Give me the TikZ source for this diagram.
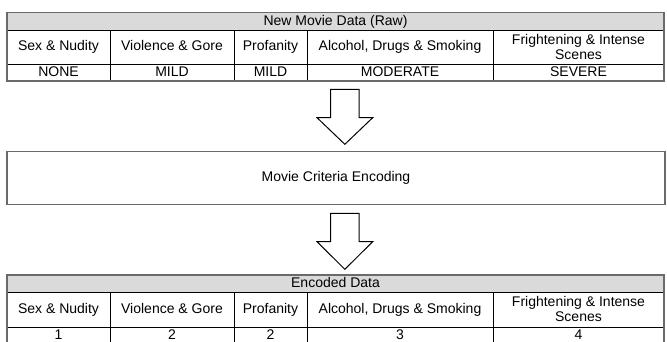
\documentclass[tikz,border=0pt]{standalone}
\usepackage{fontspec}
\setmainfont{Liberation Sans}
\definecolor{bordergray}{HTML}{6A6A6A}
\definecolor{headgray}{HTML}{DADADA}
\tikzset{
  outerframe/.style={draw=bordergray, line width=1.5pt},
  innerline/.style={draw=black, line width=0.8pt},
  celltwo/.style={font=\fontsize{14}{15}\selectfont, inner sep=0pt, align=center},
  celltxt/.style={font=\fontsize{14}{15}\selectfont, inner sep=0pt, text height=10.2pt, text depth=3pt},
  blockarrow/.style={draw=black, line width=1pt, fill=white, line join=miter}
}
\begin{document}
\begin{tikzpicture}[x=1pt,y=-1pt]
\clip (0,0) rectangle (667,341);
\fill[white] (0,0) rectangle (667,341);

% ---------- Raw table ----------
\begin{scope}
  \fill[headgray] (7,12.5) rectangle (664,30);
  \draw[innerline] (7,30) -- (664,30) (7,64) -- (664,64);
  \foreach \x in {110,234,307,493} \draw[innerline] (\x,30) -- (\x,81);
  \draw[outerframe] (7,12.5) rectangle (664,81);
  \node[celltxt] (rtitle) at (335.5,21.5) {New Movie Data (Raw)};
  \node[celltxt] (rh1) at (58.5,47) {Sex \& Nudity};
  \node[celltxt] (rh2) at (172,47) {Violence \& Gore};
  \node[celltxt] (rh3) at (270.5,47) {Profanity};
  \node[celltxt] (rh4) at (400,47) {Alcohol, Drugs \& Smoking};
  \node[celltwo] (rh5) at (578.5,46.5) {Frightening \& Intense\\Scenes};
  \node[celltxt] (rv1) at (58.5,72.5) {NONE};
  \node[celltxt] (rv2) at (172,72.5) {MILD};
  \node[celltxt] (rv3) at (270.5,72.5) {MILD};
  \node[celltxt] (rv4) at (400,72.5) {MODERATE};
  \node[celltxt] (rv5) at (578.5,72.5) {SEVERE};
\end{scope}

% ---------- Arrow 1 ----------
\coordinate (a1) at (344.85,89.3);
\draw[blockarrow] (a1) ++(-14.15,0) -- ++(28.3,0) -- ++(0,28.4) -- ++(13.65,0)
  -- ++(-27.8,26.6) -- ++(-27.8,-26.6) -- ++(13.65,0) -- cycle;

% ---------- Encoding box ----------
\draw[outerframe] (7,151.7) rectangle (665,204.7);
\node[celltxt] (enc) at (336,178.2) {Movie Criteria Encoding};

% ---------- Arrow 2 ----------
\coordinate (a2) at (344.85,213.3);
\draw[blockarrow] (a2) ++(-14.15,0) -- ++(28.3,0) -- ++(0,28.4) -- ++(13.65,0)
  -- ++(-27.8,27.6) -- ++(-27.8,-27.6) -- ++(13.65,0) -- cycle;

% ---------- Encoded table ----------
\begin{scope}[shift={(0,262.5)}]
  \fill[headgray] (7,12.5) rectangle (664,30);
  \draw[innerline] (7,30) -- (664,30) (7,64.5) -- (664,64.5);
  \foreach \x in {110,234,307,493} \draw[innerline] (\x,30) -- (\x,82);
  \draw[outerframe] (7,12.5) rectangle (664,82);
  \node[celltxt] (etitle) at (335.5,21.5) {Encoded Data};
  \node[celltxt] (eh1) at (58.5,47.2) {Sex \& Nudity};
  \node[celltxt] (eh2) at (172,47.2) {Violence \& Gore};
  \node[celltxt] (eh3) at (270.5,47.2) {Profanity};
  \node[celltxt] (eh4) at (400,47.2) {Alcohol, Drugs \& Smoking};
  \node[celltwo] (eh5) at (578.5,46.7) {Frightening \& Intense\\Scenes};
  \node[celltxt] (ev1) at (58.5,73) {1};
  \node[celltxt] (ev2) at (172,73) {2};
  \node[celltxt] (ev3) at (270.5,73) {2};
  \node[celltxt] (ev4) at (400,73) {3};
  \node[celltxt] (ev5) at (578.5,73) {4};
\end{scope}
\end{tikzpicture}
\end{document}
